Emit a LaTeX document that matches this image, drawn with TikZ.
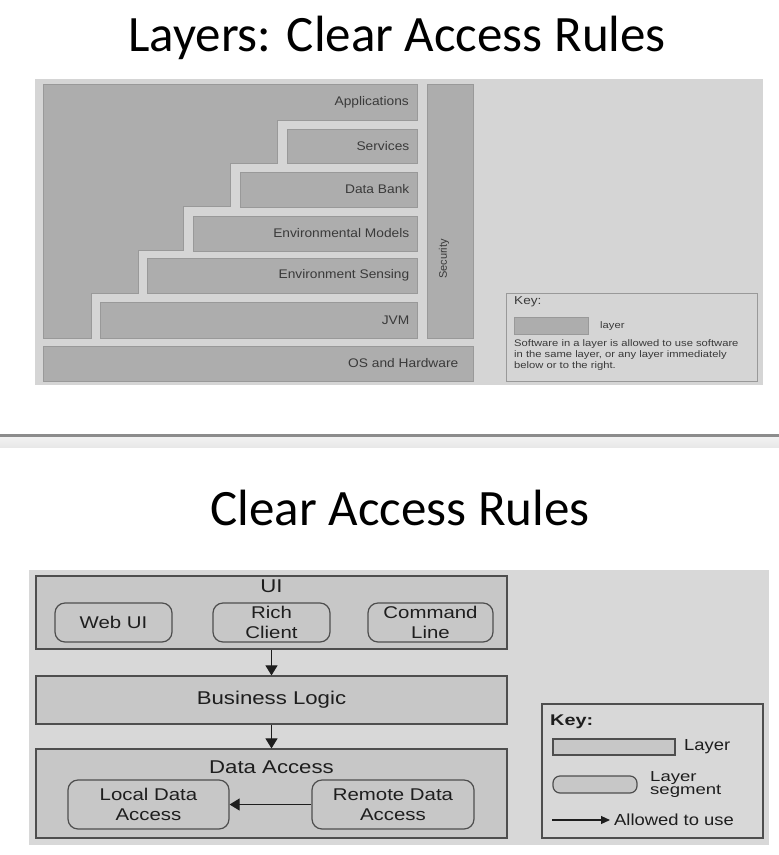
\documentclass[tikz,border=0pt]{standalone}
\usepackage{fontspec}
\setmainfont{Liberation Sans}
\newfontfamily\titlefont{Carlito}
\newfontfamily\tfont[FakeStretch=1.1]{Liberation Sans}
\newfontfamily\tkfont[FakeStretch=1.18]{Liberation Sans}
\newfontfamily\bfont[FakeStretch=1.2]{Liberation Sans}
\newfontfamily\kfont[FakeStretch=1.15]{Liberation Sans}
\newfontfamily\ksfont[FakeStretch=1.28]{Liberation Sans}
\usetikzlibrary{arrows.meta}
\definecolor{panelA}{HTML}{D5D5D5}
\definecolor{panelB}{HTML}{D8D8D8}
\definecolor{tfill}{HTML}{ADADAD}
\definecolor{tline}{HTML}{999999}
\definecolor{ttextc}{HTML}{3A3A3A}
\definecolor{bfill}{HTML}{C7C7C7}
\definecolor{bline}{HTML}{4E4E4E}
\definecolor{btextc}{HTML}{1E1E1E}
\begin{document}
\begin{tikzpicture}[x=1pt,y=-1pt,
  titletext/.style={font=\titlefont\fontsize{51}{60}\selectfont, inner sep=0pt},
  topbox/.style={draw=tline, fill=tfill, line width=1pt, inner sep=0pt},
  ttext/.style={text=ttextc, font=\tfont\fontsize{12.5}{15}\selectfont, inner sep=0pt},
  tkey/.style={draw=tline, line width=1pt, inner sep=0pt},
  botbox/.style={draw=bline, fill=bfill, line width=1.2pt, inner sep=0pt},
  segbox/.style={botbox, rounded corners=10pt},
  btext/.style={text=btextc, font=\bfont\fontsize{18.5}{20}\selectfont, inner sep=0pt, align=center},
  stext/.style={text=btextc, font=\bfont\fontsize{17}{19.5}\selectfont, inner sep=0pt, align=center},
  bkey/.style={text=btextc, font=\kfont\fontsize{16}{17}\selectfont, inner sep=0pt, align=left},
  arr/.style={draw=btextc, line width=1.1pt, -{Triangle[length=10pt,width=12pt]}}
]
\useasboundingbox (0,0) rectangle (779,855);
\fill[white] (0,0) rectangle (779,855);

% titles
\node[titletext, anchor=base] (t1) at (397,51) {Layers: Clear Access Rules};
\node[titletext, anchor=base] (t2) at (400,525) {Clear Access Rules};

% ---------- top diagram ----------
\fill[panelA] (35,79) rectangle (763,385);
\draw[topbox] (43,84) -- (417,84) -- (417,120) -- (277,120) -- (277,163) -- (230,163)
  -- (230,206) -- (183,206) -- (183,250) -- (138,250) -- (138,293) -- (91,293)
  -- (91,338) -- (43,338) -- cycle;
\node[ttext, anchor=east] (lapp) at (409,102) {Applications};

\node[topbox, minimum width=130, minimum height=34] (serv) at (352,146) {};
\node[topbox, minimum width=177, minimum height=35] (dbank) at (328.5,189.5) {};
\node[topbox, minimum width=224, minimum height=35] (envm) at (305,233.5) {};
\node[topbox, minimum width=270, minimum height=35] (envs) at (282,275.5) {};
\node[topbox, minimum width=317, minimum height=36] (jvm) at (258.5,320) {};
\node[topbox, minimum width=46, minimum height=254] (sec) at (450,211) {};
\node[topbox, minimum width=430, minimum height=35] (os) at (258,363.5) {};

\node[ttext, anchor=east] at ([xshift=-8pt]serv.east) {Services};
\node[ttext, anchor=east] at ([xshift=-8pt]dbank.east) {Data Bank};
\node[ttext, anchor=east] at ([xshift=-8pt]envm.east) {Environmental Models};
\node[ttext, anchor=east] at ([xshift=-8pt]envs.east) {Environment Sensing};
\node[ttext, anchor=east] at ([xshift=-8pt]jvm.east) {JVM};
\node[ttext, anchor=east] at ([xshift=-15pt]os.east) {OS and Hardware};
\node[ttext, rotate=90, font=\fontsize{11}{13}\selectfont] (lsec) at (444,259) {Security};

% top key
\node[tkey, minimum width=251, minimum height=88] (tk) at (631.5,337) {};
\node[ttext, anchor=west, font=\tkfont\fontsize{11.5}{14}\selectfont] (tkt) at (514,302) {Key:};
\node[topbox, minimum width=74, minimum height=17] (tks) at (551,325.5) {};
\node[ttext, anchor=west, font=\tkfont\fontsize{9.5}{12}\selectfont] (tkl) at (600,326) {layer};
\node[ttext, anchor=north west, font=\tkfont\fontsize{9.5}{11}\selectfont, align=left] (tkp) at (514,339)
  {Software in a layer is allowed to use software\\in the same layer, or any layer immediately\\below or to the right.};

% divider
\shade[top color=white!90!gray, bottom color=white!82!gray] (0,436) rectangle (779,447);
\fill[gray!90] (0,434) rectangle (779,436.5);

% ---------- bottom diagram ----------
\fill[panelB] (29,570) rectangle (769,845);
\node[botbox, minimum width=471, minimum height=73] (ui) at (271.5,612.5) {};
\node[botbox, minimum width=471, minimum height=48] (bl) at (271.5,700) {};
\node[botbox, minimum width=471, minimum height=89] (da) at (271.5,793.5) {};
\node[btext] (uil) at (271.5,586) {UI};
\node[btext] (bll) at (bl) {Business Logic};
\node[btext] (dal) at (271.5,767) {Data Access};

\node[segbox, minimum width=117, minimum height=39] (web) at (113.5,622.5) {};
\node[segbox, minimum width=117, minimum height=39] (rich) at (271.5,622.5) {};
\node[segbox, minimum width=125, minimum height=39] (cmd) at (430.5,622.5) {};
\node[stext] at (web) {Web UI};
\node[stext] at (rich) {Rich\\Client};
\node[stext] at (cmd) {Command\\Line};

\node[segbox, minimum width=161, minimum height=49] (local) at (148.5,804.5) {};
\node[segbox, minimum width=162, minimum height=49] (remote) at (393,804.5) {};
\node[stext] at (local) {Local Data\\Access};
\node[stext] at (remote) {Remote Data\\Access};

\draw[arr] (ui.south) -- (bl.north);
\draw[arr] (bl.south) -- (da.north);
\draw[arr] (remote.west) -- (local.east);

% bottom key
\node[draw=bline, line width=1.2pt, inner sep=0pt, minimum width=221, minimum height=134] (bk) at (652.5,771) {};
\node[bkey, anchor=west, font=\ksfont\bfseries\fontsize{15.5}{16}\selectfont] (bkt) at (550,722) {Key:};
\node[botbox, minimum width=122, minimum height=16] (bks) at (614,747) {};
\node[bkey, anchor=west] (bkl) at (684,747) {Layer};
\node[segbox, rounded corners=7pt, minimum width=84, minimum height=17] (bkg) at (595,784.5) {};
\node[bkey, anchor=west, font=\ksfont\fontsize{14.5}{13}\selectfont] (bkgl) at (650,785) {Layer\\segment};
\coordinate (ka) at (552,820);
\coordinate (kb) at (610,820);
\draw[arr, -{Triangle[length=9pt,width=8pt]}] (ka) -- (kb);
\node[bkey, anchor=west] (bka) at (614,820) {Allowed to use};
\end{tikzpicture}
\end{document}
